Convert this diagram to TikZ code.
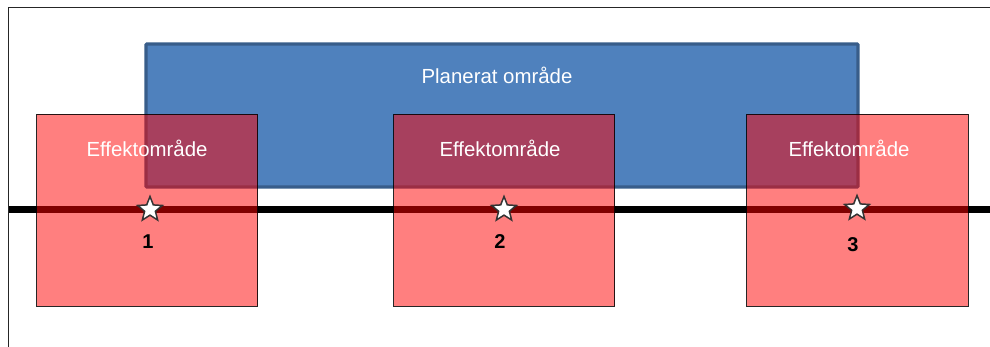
\documentclass[tikz,border=0pt]{standalone}
\usepackage{fontspec}
\setmainfont{Liberation Sans}
\usetikzlibrary{shapes.geometric}
\definecolor{planfill}{HTML}{4F81BD}
\definecolor{planline}{HTML}{385D8A}
\tikzset{
  effektbox/.style={draw=black,line width=1pt,fill=red,fill opacity=0.5,draw opacity=0.85},
  plantext/.style={text=white,font=\fontsize{20.4pt}{24pt}\selectfont,inner sep=0pt},
  numtext/.style={text=black,font=\fontsize{20pt}{24pt}\selectfont\bfseries,inner sep=0pt},
  starmark/.style={star,star points=5,star point ratio=2.3,draw=black!80,line width=1.5pt,fill=white,minimum size=26pt,inner sep=0pt},
}
\begin{document}
\begin{tikzpicture}[x=1pt,y=-1pt]
\useasboundingbox (0,0) rectangle (990,347);
% frame
\coordinate (fbl) at (8.5,347);
\coordinate (ftl) at (8.5,7.5);
\coordinate (ftr) at (990,7.5);
\draw[line width=1pt,black!85] (fbl) -- (ftl) -- (ftr);
% road
\coordinate (rl) at (8.5,209.5);
\coordinate (rr) at (990,209.5);
\draw[line width=7pt,black] (rl) -- (rr);
% planned area
\draw[planline,fill=planfill,line width=3.4pt,rounded corners=1pt] (146,44) rectangle (858,187);
\node[plantext] (plan) at (497,75.5) {Planerat område};
% effect areas
\draw[effektbox] (36.5,114.5) rectangle (257.5,306);
\draw[effektbox] (393.5,114.5) rectangle (614.5,306);
\draw[effektbox] (746.5,114.5) rectangle (968,306);
\node[plantext] (e1) at (147,148) {Effektområde};
\node[plantext] (e2) at (500,148) {Effektområde};
\node[plantext] (e3) at (849,148) {Effektområde};
% points
\node[starmark] (s1) at (150,209.5) {};
\node[starmark] (s2) at (504,209.5) {};
\node[starmark] (s3) at (857,208.5) {};
\node[numtext] (n1) at (148,241.5) {1};
\node[numtext] (n2) at (500,241.5) {2};
\node[numtext] (n3) at (853,244.5) {3};
\end{tikzpicture}
\end{document}
